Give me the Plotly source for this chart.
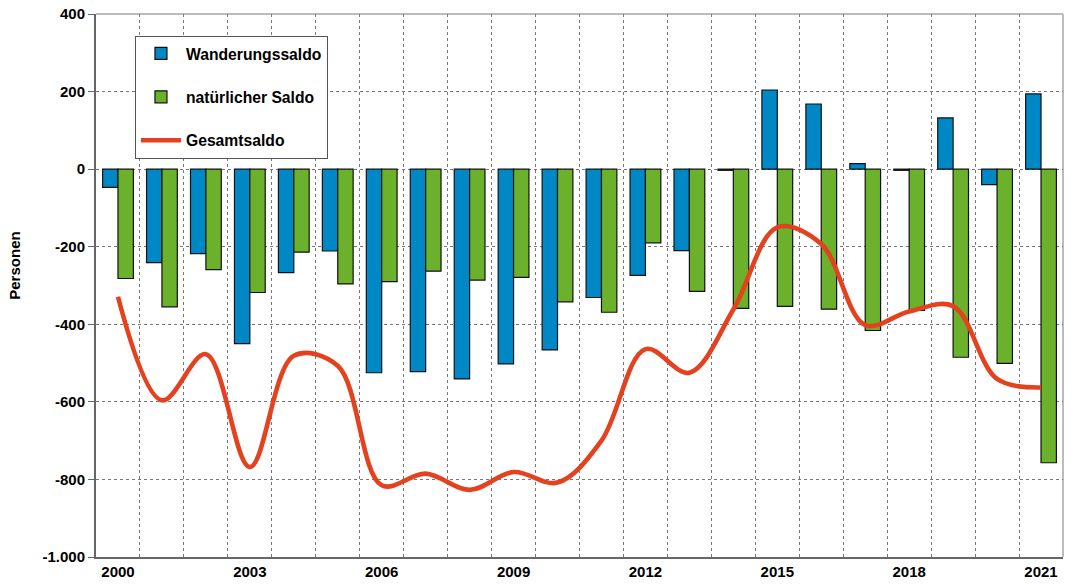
import plotly.graph_objects as go

years = list(range(2000, 2022))
wanderungssaldo = [-47, -241, -218, -450, -267, -211, -525, -522, -541, -502, -466, -331,
                   -274, -210, -3, 204, 168, 14, -3, 132, -40, 194]
natuerlicher_saldo = [-282, -355, -259, -318, -214, -296, -290, -263, -286, -279, -342, -369,
                      -190, -315, -359, -354, -361, -416, -364, -485, -501, -757]
gesamtsaldo = [-329, -596, -477, -768, -481, -507, -815, -785, -827, -781, -808, -700,
               -464, -525, -362, -150, -193, -402, -367, -353, -541, -563]

tick_years = [2000, 2003, 2006, 2009, 2012, 2015, 2018, 2021]
tick_year_labels = ["2000", "2003", "2006", "2009", "2012", "2015", "2018", "2021"]
y_ticks = [-1000, -800, -600, -400, -200, 0, 200, 400]
y_tick_labels = ["-1.000", "-800", "-600", "-400", "-200", "0", "200", "400"]

BLUE = "#0088C6"
GREEN = "#6CB12B"
RED = "#E4411F"

fig = go.Figure()
fig.add_trace(go.Bar(x=years, y=wanderungssaldo, name="Wanderungssaldo",
                     marker=dict(color=BLUE, line=dict(color="#111111", width=1.2)),
                     legendgroup="a"))
fig.add_trace(go.Bar(x=years, y=natuerlicher_saldo, name="natürlicher Saldo",
                     marker=dict(color=GREEN, line=dict(color="#111111", width=1.2)),
                     legendgroup="b"))
fig.add_trace(go.Scatter(x=years, y=gesamtsaldo, name="Gesamtsaldo", mode="lines",
                         line=dict(color=RED, width=4.6, shape="spline", smoothing=1.0),
                         legendgroup="c"))

fig.update_layout(
    width=1071, height=584,
    margin=dict(l=96, r=8, t=14, b=27, autoexpand=False),
    paper_bgcolor="white", plot_bgcolor="white",
    font=dict(family="Liberation Sans, Arial, sans-serif", size=15, color="black", weight="bold"),
    barmode="group", bargap=0.3, bargroupgap=0,
    legend=dict(x=0.0403, y=0.96, xanchor="left", yanchor="top",
                bgcolor="white", bordercolor="#555555", borderwidth=1,
                font=dict(size=15.7), tracegroupgap=20, traceorder="grouped",
                itemwidth=40),
    showlegend=True,
)

fig.update_xaxes(
    range=[1999.5, 2021.5], automargin=False,
    tickmode="array", tickvals=tick_years, ticktext=tick_year_labels,
    showgrid=False, showline=True, linecolor="#666666", linewidth=2,
    ticks="", ticklen=0,
    minor=dict(tickmode="linear", tick0=1999.5, dtick=1, showgrid=True,
               gridcolor="#777777", griddash="dot", gridwidth=1, ticks=""),
    zeroline=False,
)
fig.update_yaxes(
    range=[-1000, 400], automargin=False,
    tickmode="array", tickvals=y_ticks, ticktext=y_tick_labels,
    showgrid=True, gridcolor="#777777", griddash="dot", gridwidth=1,
    showline=True, linecolor="#666666", linewidth=2,
    ticks="outside", ticklen=6, tickcolor="#666666",
    zeroline=False,
)

# light frame on top and right
fig.add_shape(type="line", xref="paper", yref="paper", x0=0, x1=1, y0=1, y1=1,
              line=dict(color="#BBBBBB", width=2), layer="below")
fig.add_shape(type="line", xref="paper", yref="paper", x0=1, x1=1, y0=0, y1=1,
              line=dict(color="#BBBBBB", width=2), layer="below")

fig.add_annotation(text="Personen", xref="paper", yref="paper",
                   x=-0.084, y=0.536, textangle=-90, showarrow=False,
                   font=dict(size=15), xanchor="center", yanchor="middle")

fig.write_html("out.html", config={"displayModeBar": False},
               post_script="document.body.style.margin='0';document.body.style.overflow='hidden';")
